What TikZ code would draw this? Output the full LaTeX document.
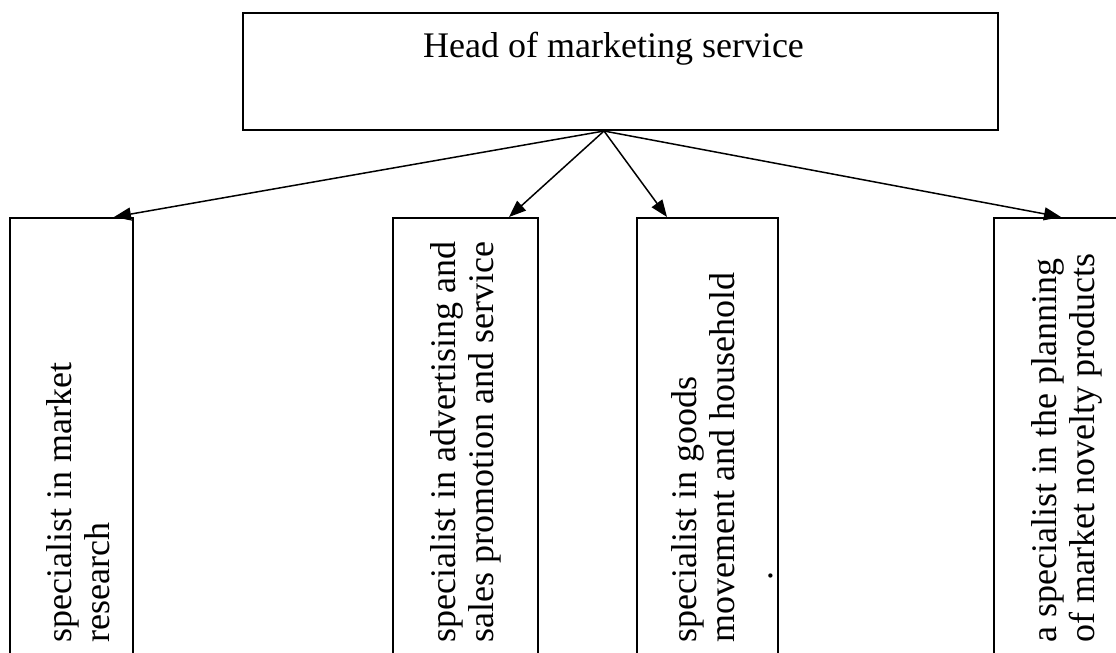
\documentclass[tikz,border=0pt]{standalone}
\usepackage{fontspec}
\setmainfont{Liberation Serif}
\usetikzlibrary{arrows.meta}
\begin{document}
\begin{tikzpicture}[x=1pt,y=-1pt,
  box/.style={draw=black, line width=2pt, fill=none, inner sep=0pt},
  vtext/.style={rotate=90, anchor=west, align=left, inner sep=0pt,
    font=\fontsize{36}{38}\selectfont},
  link/.style={line width=1.5pt, -{Triangle[length=17pt,width=13pt]}}
]
\useasboundingbox (0,0) rectangle (1116,653);
\clip (0,0) rectangle (1116,653);
% head
\node[box, minimum width=755pt, minimum height=117pt,
  text height=26pt, text depth=54pt,
  font=\fontsize{36}{40}\selectfont] (head) at (620.5,71.5) {\hspace*{-14pt}Head of marketing service};
\coordinate (apex) at ([xshift=-16.5pt]head.south);
% subordinate boxes
\node[box, minimum width=123pt, minimum height=482pt] (b1) at (71.5,459) {};
\node[box, minimum width=145pt, minimum height=482pt] (b2) at (465.5,459) {};
\node[box, minimum width=141pt, minimum height=482pt] (b3) at (707.5,459) {};
\node[box, minimum width=145pt, minimum height=482pt] (b4) at (1066.5,459) {};
% texts
\node[vtext] (t1) at (78,643) {specialist in market\\research};
\node[vtext] (t2) at (466,643) {specialist in advertising and\\sales promotion and service};
\node[vtext] (t3) at (722,643) {specialist in goods\\movement and household\\\hspace*{62pt}.};
\node[vtext] (t4) at (1067,643) {a specialist in the planning\\of market novelty products};
% connectors
\draw[link] (apex) -- ([xshift=-20pt]b1.north east);
\draw[link] (apex) -- ([xshift=-30pt]b2.north east);
\draw[link] (apex) -- ([xshift=31pt]b3.north west);
\draw[link] (apex) -- ([xshift=68pt]b4.north west);
\end{tikzpicture}
\end{document}
